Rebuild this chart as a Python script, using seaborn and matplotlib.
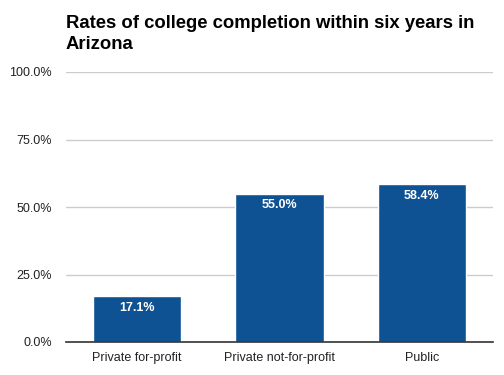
import matplotlib
matplotlib.use("Agg")
import matplotlib.pyplot as plt
import seaborn as sns
import pandas as pd
from matplotlib.ticker import FuncFormatter

categories = ["Private for-profit", "Private not-for-profit", "Public"]
rates = [17.1, 55.0, 58.4]
yticks = [0, 25, 50, 75, 100]

df = pd.DataFrame({"sector": categories, "rate": rates})

sns.set_theme(style="white")
plt.rcParams["font.family"] = ["Liberation Sans", "DejaVu Sans"]

fig = plt.figure(figsize=(5.04, 3.75), dpi=100)
ax = fig.add_axes([0.131, 0.088, 0.847, 0.72])

sns.barplot(data=df, x="sector", y="rate", color="#0e5294", saturation=1,
            width=0.62, ax=ax)

ax.set_ylim(0, 100)
ax.set_xlim(-0.5, 2.5)
ax.set_yticks(yticks)
ax.yaxis.set_major_formatter(FuncFormatter(lambda v, p: f"{v:.1f}%"))
ax.grid(axis="y", color="#cccccc", linewidth=1)
ax.set_axisbelow(True)
for s in ["left", "right", "top"]:
    ax.spines[s].set_visible(False)
ax.spines["bottom"].set_color("#333333")
ax.spines["bottom"].set_linewidth(1.2)
ax.tick_params(axis="both", length=0, labelsize=9, colors="#222222")
ax.tick_params(axis="y", pad=10)
ax.tick_params(axis="x", pad=7.5)
ax.set_xlabel("")
ax.set_ylabel("")

for p, v in zip(ax.patches, rates):
    ax.annotate(f"{v:.1f}%", (p.get_x() + p.get_width() / 2, p.get_height()),
                xytext=(0, -8.5), textcoords="offset points", ha="center",
                va="center", color="white", fontsize=9, fontweight="bold")

fig.text(0.131, 0.909, "Rates of college completion within six years in\nArizona",
         fontsize=13.3, fontweight="bold", color="black", ha="left", va="center",
         linespacing=1.3)

fig.savefig("out.png", dpi=100)
